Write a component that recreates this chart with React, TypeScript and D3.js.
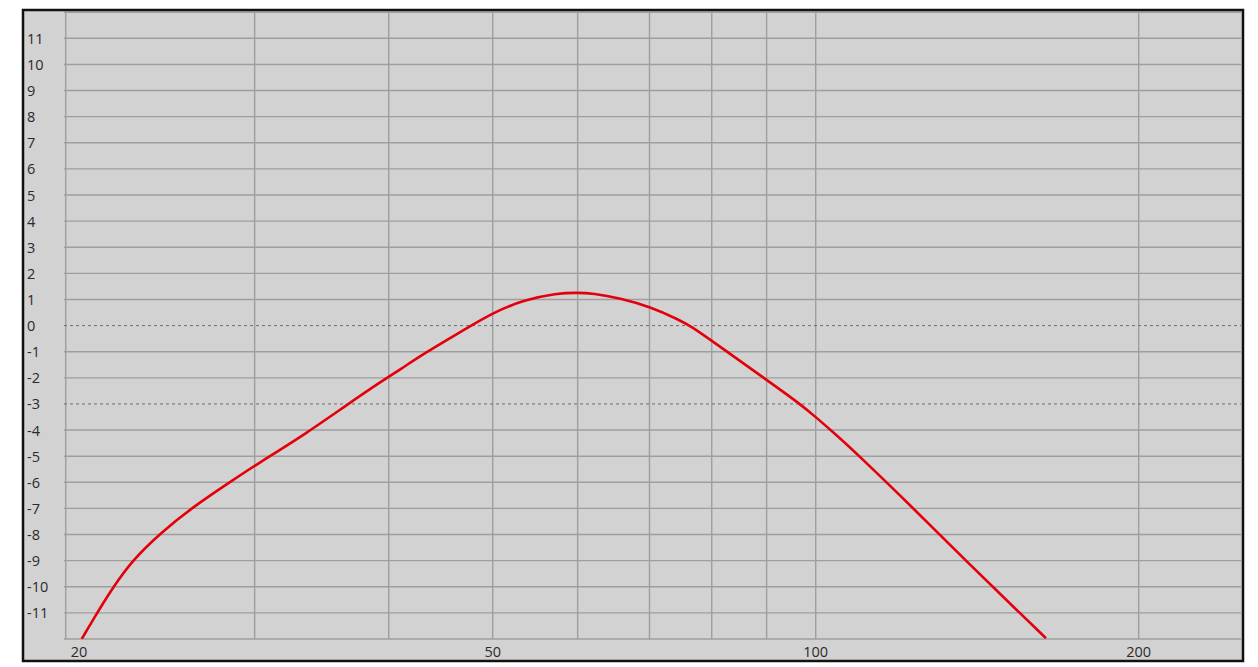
import * as d3 from "d3";

// frequency response readings (Hz, dB)
const freqs = [20.7, 21.2, 22.15, 23.1, 24.5, 26.3, 28.65, 29.9, 33.55, 36.55, 39.5, 41.0, 43.2, 47.3, 49.9, 53.4, 57.4, 59.9, 62.0, 65.7, 70.1, 74.7, 76.6, 80.0, 90.0, 96.7, 100, 104.6, 109.2, 123.3, 138.3, 155.0, 163.9];
const gains = [-12, -11.27, -10.0, -8.97, -7.95, -6.93, -5.91, -5.4, -4.12, -3.04, -2.1, -1.68, -1.05, -0.1, 0.47, 0.98, 1.24, 1.26, 1.24, 1.05, 0.72, 0.21, -0.04, -0.58, -2.08, -3.0, -3.5, -4.2, -4.9, -6.99, -9.04, -11.01, -11.97];

const xGrid = [20, 30, 40, 50, 60, 70, 80, 90, 100, 200];
const xLabels = [20, 50, 100, 200];
const yTicks = d3.range(-12, 13);
const yLabels = d3.range(-11, 12);
const dashedLevels = [0, -3];

export default function App() {
  const W = 1258;
  const H = 667;
  const frame = { left: 23, top: 10, right: 1243, bottom: 661 };
  const plot = { left: 64, top: 12, right: 1241, bottom: 639 };

  const x = d3.scaleLog().domain([20, 250]).range([65.7, 1242.7]);
  const y = d3.scaleLinear().domain([-12, 12]).range([639.0, 12.2]);

  const line = d3
    .line<number>()
    .x((_, i) => x(freqs[i]))
    .y((d) => y(d))
    .curve(d3.curveBasis);

  const font = "'Open Sans', 'Noto Sans', sans-serif";

  return (
    <svg width={W} height={H} style={{ position: "absolute", left: 0, top: 0, background: "#fff" }}>
      <defs>
        <clipPath id="plotClip">
          <rect x={plot.left} y={plot.top} width={plot.right - plot.left} height={plot.bottom - plot.top} />
        </clipPath>
      </defs>

      {/* panel */}
      <rect x={frame.left} y={frame.top} width={frame.right - frame.left} height={frame.bottom - frame.top} fill="#d2d2d2" />

      {/* horizontal grid */}
      {yTicks
        .filter((v) => !dashedLevels.includes(v))
        .map((v) => (
          <line key={"h" + v} x1={plot.left} x2={plot.right} y1={y(v)} y2={y(v)} stroke="#9e9e9e" strokeWidth={1.4} />
        ))}

      {/* vertical grid */}
      {xGrid.map((f) => (
        <line key={"v" + f} x1={Math.max(x(f), plot.left)} x2={Math.max(x(f), plot.left)} y1={plot.top} y2={plot.bottom} stroke="#9e9e9e" strokeWidth={1.4} />
      ))}

      {/* reference levels */}
      {dashedLevels.map((v) => (
        <line key={"d" + v} x1={plot.left} x2={plot.right} y1={y(v)} y2={y(v)} stroke="#6e6e6e" strokeWidth={1} strokeDasharray="3,3" />
      ))}

      {/* y labels */}
      {yLabels.map((v) => (
        <text key={"yl" + v} x={27} y={y(v)} dominantBaseline="central" fontFamily={font} fontSize={14.5} fill="#2a2a2a">
          {v}
        </text>
      ))}

      {/* x labels */}
      {xLabels.map((f, i) => (
        <text
          key={"xl" + f}
          x={i === 0 ? x(f) + 5 : x(f)}
          y={651}
          textAnchor={i === 0 ? "start" : "middle"}
          dominantBaseline="central"
          fontFamily={font}
          fontSize={14.5}
          fill="#2a2a2a"
        >
          {f}
        </text>
      ))}

      {/* response curve */}
      <path d={line(gains) ?? ""} fill="none" stroke="#e3000b" strokeWidth={2.6} strokeLinejoin="round" clipPath="url(#plotClip)" />

      {/* frame */}
      <rect x={frame.left} y={frame.top} width={frame.right - frame.left} height={frame.bottom - frame.top} fill="none" stroke="#111" strokeWidth={2.5} />
    </svg>
  );
}
